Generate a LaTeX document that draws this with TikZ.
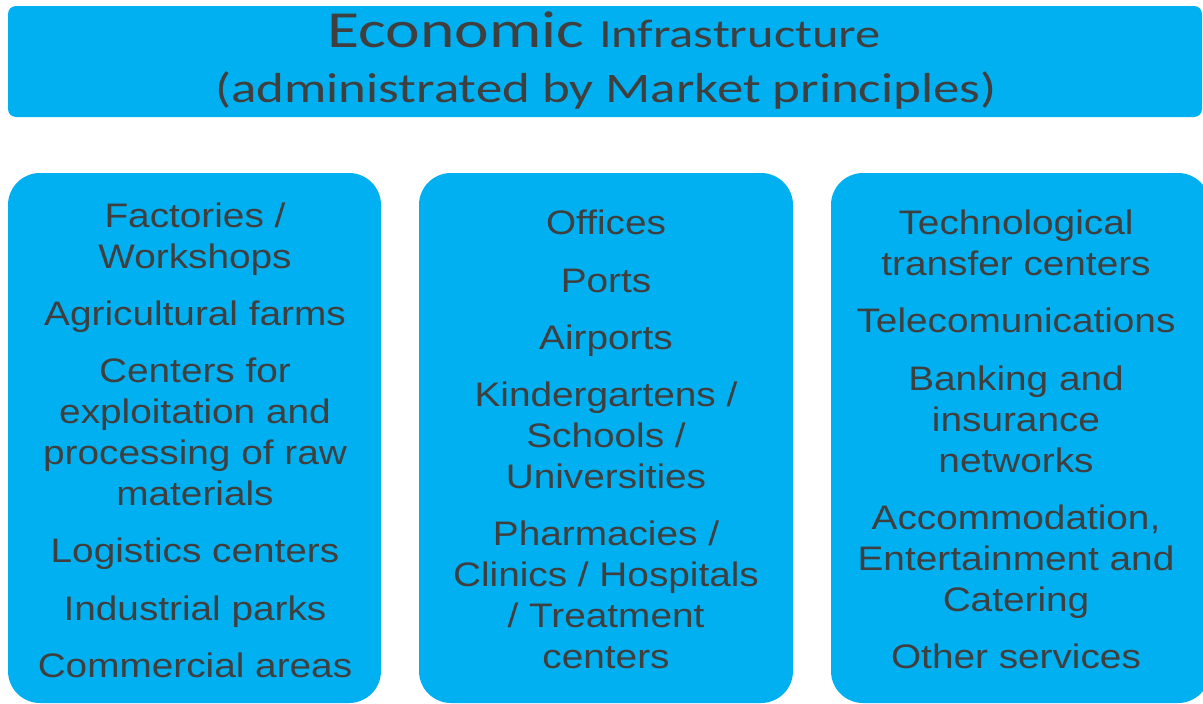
\documentclass[tikz,border=0pt]{standalone}
\usepackage{fontspec}
\setmainfont{Liberation Sans}
\newfontfamily\boxfont[FakeStretch=1.14]{Liberation Sans}
\newfontfamily\calibri[FakeStretch=1.26]{Carlito}
\definecolor{cyanfill}{HTML}{00B0F0}
\definecolor{txt}{HTML}{3F3F3F}
\tikzset{
  panel/.style={fill=cyanfill, draw=none, rounded corners=32pt},
  banner/.style={fill=cyanfill, draw=none, rounded corners=8pt},
  item/.style={align=center, text=txt, inner sep=0pt,
    font=\boxfont\fontsize{34}{41}\selectfont,
    execute at begin node=\strut, execute at end node=\strut},
  ttl/.style={text=txt, inner sep=0pt, anchor=base, font=\calibri}
}
\begin{document}
\begin{tikzpicture}[x=1pt,y=-1pt]
\useasboundingbox (0,0) rectangle (1203,704);
\fill[white] (0,0) rectangle (1203,704);
\path[banner] (8,6) rectangle (1202,117);
\node[ttl] (t1) at (604,47) {\fontsize{52}{52}\selectfont Economic \fontsize{40}{40}\selectfont Infrastructure};
\node[ttl] (t2) at (606,102) {\fontsize{42}{42}\selectfont (administrated by Market principles)};
\path[panel] (8,173) rectangle (381,703);
\path[panel] (419,173) rectangle (793,703);
\path[panel] (831,173) rectangle (1210,703);
% left
\node[item] (a1) at (195,241.5) {Factories /\\Workshops};
\node[item] (a2) at (195,317) {Agricultural farms};
\node[item] (a3) at (195,438) {Centers for\\exploitation and\\processing of raw\\materials};
\node[item] (a4) at (195,554) {Logistics centers};
\node[item] (a5) at (195,612) {Industrial parks};
\node[item] (a6) at (195,669) {Commercial areas};
% middle
\node[item] (b1) at (606,226) {Offices};
\node[item] (b2) at (606,284) {Ports};
\node[item] (b3) at (606,341) {Airports};
\node[item] (b4) at (606,441) {Kindergartens /\\Schools /\\Universities};
\node[item] (b5) at (606,600.5) {Pharmacies /\\Clinics / Hospitals\\/ Treatment\\centers};
% right
\node[item] (c1) at (1016,248.5) {Technological\\transfer centers};
\node[item] (c2) at (1016,324) {Telecomunications};
\node[item] (c3) at (1016,425) {Banking and\\insurance\\networks};
\node[item] (c4) at (1016,564) {Accommodation,\\Entertainment and\\Catering};
\node[item] (c5) at (1016,660) {Other services};
\end{tikzpicture}
\end{document}
